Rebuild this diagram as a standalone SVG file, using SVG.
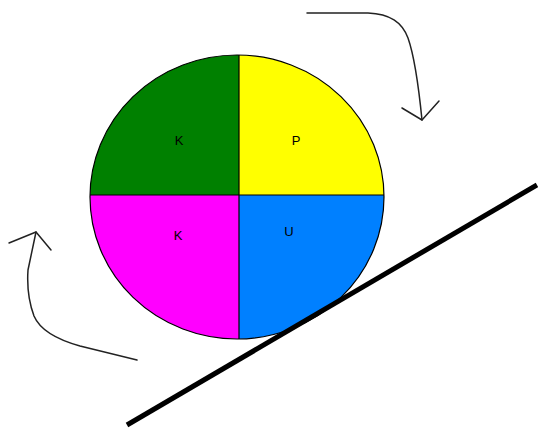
<svg xmlns="http://www.w3.org/2000/svg" width="538" height="428" viewBox="0 0 538 428">
<style>
.lbl{font-family:"Liberation Sans",Arial,sans-serif;font-size:13px;fill:#000;text-anchor:middle}
.arr{fill:none;stroke:#222;stroke-width:1.5;stroke-linecap:round;stroke-linejoin:round}
</style>
<defs>
<clipPath id="wheel"><ellipse cx="237" cy="197" rx="147" ry="142"/></clipPath>
</defs>
<rect width="538" height="428" fill="#fff"/>
<g id="wheel-node">
<g clip-path="url(#wheel)">
<rect x="80" y="40" width="159" height="155" fill="#008000"/>
<rect x="239" y="40" width="160" height="155" fill="#ffff00"/>
<rect x="80" y="195" width="159" height="160" fill="#ff00ff"/>
<rect x="239" y="195" width="160" height="160" fill="#0080ff"/>
</g>
<line x1="239" y1="55" x2="239" y2="339" stroke="#000" stroke-width="1.2"/>
<line x1="90" y1="195" x2="384" y2="195" stroke="#000" stroke-width="1.2"/>
<ellipse cx="237" cy="197" rx="147" ry="142" fill="none" stroke="#000" stroke-width="1.2"/>
</g>
<g id="label-k1"><text class="lbl" x="179" y="145">K</text></g>
<g id="label-p"><text class="lbl" x="296" y="145">P</text></g>
<g id="label-k2"><text class="lbl" x="178" y="240">K</text></g>
<g id="label-u"><text class="lbl" x="289" y="236">U</text></g>
<g id="incline"><line x1="127" y1="425" x2="537" y2="185" stroke="#000" stroke-width="5"/></g>
<g id="connectors">
<path class="arr" d="M307,13 L368,13 C390,14 402,22 408,38 C414,55 418,80 422,120"/>
<path class="arr" d="M402,108 L422,120 L439,101"/>
<path class="arr" d="M137,360 L80,346 C55,339 40,330 34,316 C28,300 27,285 28,270 L36,232"/>
<path class="arr" d="M9,243 L36,232 L51,250"/>
</g>
</svg>
